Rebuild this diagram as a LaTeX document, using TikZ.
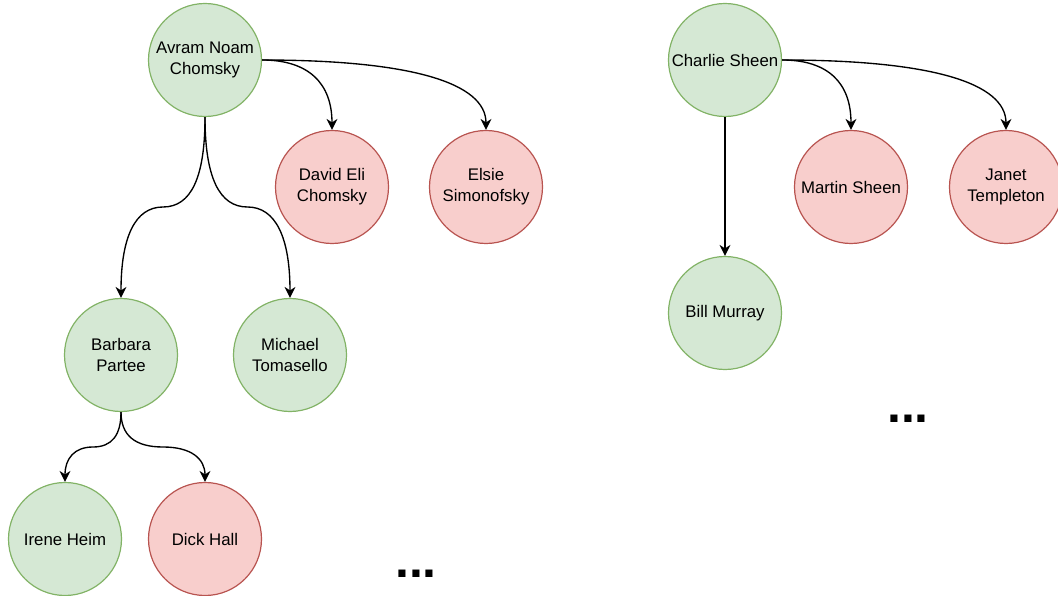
\documentclass[tikz,border=0pt]{standalone}
\usepackage{fontspec}
\setmainfont{Liberation Sans}
\usetikzlibrary{arrows.meta}
\definecolor{gfill}{HTML}{D5E8D4}
\definecolor{gline}{HTML}{82B366}
\definecolor{rfill}{HTML}{F8CECC}
\definecolor{rline}{HTML}{B85450}
\begin{document}
\begin{tikzpicture}[x=1pt,y=-1pt,
  person/.style={circle, minimum size=113pt, inner sep=0pt, line width=1.2pt,
    font=\fontsize{16.8}{21}\selectfont, align=center},
  kin/.style={person, fill=gfill, draw=gline},
  other/.style={person, fill=rfill, draw=rline},
  link/.style={line width=1.35pt, -{Stealth[length=11pt,width=11pt,inset=3.5pt]}},
  more/.style={anchor=base, inner sep=0pt, font=\bfseries\fontsize{50}{50}\selectfont}]
\useasboundingbox (0,0) rectangle (1058,596);

% first family tree
\node[kin]   (avram)   at (205,60)  {Avram Noam\\Chomsky};
\node[other] (david)   at (332,187) {David Eli\\Chomsky};
\node[other] (elsie)   at (486,187) {Elsie\\Simonofsky};
\node[kin]   (barbara) at (121,355) {Barbara\\Partee};
\node[kin]   (michael) at (290,355) {Michael\\Tomasello};
\node[kin]   (irene)   at (65,539)  {Irene Heim};
\node[other] (dick)    at (205,539) {Dick Hall};

% second family tree
\node[kin]   (charlie) at (725,60)  {Charlie Sheen};
\node[other] (martin)  at (851,187) {Martin Sheen};
\node[other] (janet)   at (1006,187) {Janet\\Templeton};
\node[kin]   (bill)    at (725,313) {Bill Murray};

% bends of the branching edges
\coordinate (ab) at (163,207);
\coordinate (am) at (247.5,207);
\coordinate (bi) at (93,447);
\coordinate (bd) at (163,447);

\draw[link] (avram.east) .. controls +(46,0) and +(0,-47) .. (david.north);
\draw[link] (avram.east) .. controls +(149,0) and +(0,-47) .. (elsie.north);
\draw[link] (avram.south) .. controls +(0,60.7) and +(28,0) .. (ab)
            .. controls +(-28,0) and +(0,-60.7) .. (barbara.north);
\draw[link] (avram.south) .. controls +(0,60.7) and +(-28,0) .. (am)
            .. controls +(28,0) and +(0,-60.7) .. (michael.north);
\draw[link] (barbara.south) .. controls +(0,23.3) and +(18.7,0) .. (bi)
            .. controls +(-18.7,0) and +(0,-23.3) .. (irene.north);
\draw[link] (barbara.south) .. controls +(0,23.3) and +(-28,0) .. (bd)
            .. controls +(28,0) and +(0,-23.3) .. (dick.north);

\draw[link] (charlie.east) .. controls +(46,0) and +(0,-47) .. (martin.north);
\draw[link] (charlie.east) .. controls +(149,0) and +(0,-47) .. (janet.north);
\draw[link] (charlie.south) -- (bill.north);

\node[more] (more1) at (416,577) {...};
\node[more] (more2) at (908,422) {...};
\end{tikzpicture}
\end{document}
